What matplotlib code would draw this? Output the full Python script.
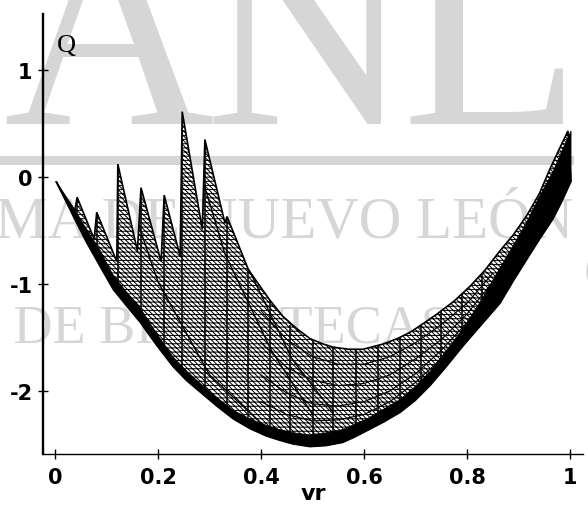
import matplotlib
matplotlib.use("Agg")
import matplotlib.pyplot as plt
from matplotlib.patches import Rectangle

# top edge of the surface, spike tip then foot of the next one
upper_vr = [0.002, 0.037, 0.043, 0.076, 0.081, 0.120, 0.122, 0.160, 0.167, 0.206, 0.212, 0.243, 0.247,
            0.286, 0.291, 0.330, 0.334, 0.355, 0.375, 0.392, 0.417, 0.442, 0.470, 0.495, 0.520, 0.540,
            0.570, 0.598, 0.638, 0.665, 0.690, 0.715, 0.742, 0.775, 0.806, 0.835, 0.864, 0.890, 0.916,
            0.940, 0.961, 0.980, 0.996]
upper_q = [-0.04, -0.35, -0.19, -0.58, -0.33, -0.79, 0.12, -0.69, -0.10, -0.79, -0.17, -0.74, 0.61,
           -0.49, 0.35, -0.43, -0.37, -0.62, -0.86, -0.98, -1.15, -1.30, -1.42, -1.51, -1.56, -1.59,
           -1.61, -1.61, -1.56, -1.51, -1.45, -1.37, -1.28, -1.16, -1.02, -0.87, -0.69, -0.54, -0.36,
           -0.16, 0.075, 0.27, 0.43]

# bottom edge and the top of the dark band along it
lower_vr = [0.002, 0.035, 0.060, 0.087, 0.113, 0.140, 0.165, 0.197, 0.229, 0.255, 0.282, 0.314, 0.346,
            0.378, 0.410, 0.436, 0.462, 0.495, 0.527, 0.559, 0.582, 0.606, 0.638, 0.670, 0.699, 0.728,
            0.760, 0.792, 0.828, 0.864, 0.890, 0.916, 0.941, 0.967, 0.985, 1.002]
lower_q = [-0.04, -0.36, -0.60, -0.83, -1.05, -1.21, -1.355, -1.57, -1.77, -1.90, -2.01, -2.14, -2.26,
           -2.35, -2.42, -2.46, -2.495, -2.52, -2.51, -2.48, -2.43, -2.37, -2.29, -2.20, -2.09, -1.95,
           -1.77, -1.58, -1.38, -1.18, -0.97, -0.77, -0.58, -0.39, -0.22, -0.04]
band_q = [-0.04, -0.28, -0.48, -0.68, -0.92, -1.08, -1.22, -1.46, -1.68, -1.81, -1.93, -2.06, -2.18,
          -2.26, -2.32, -2.36, -2.39, -2.41, -2.39, -2.36, -2.31, -2.26, -2.17, -2.08, -1.96, -1.82,
          -1.62, -1.42, -1.15, -0.85, -0.64, -0.42, -0.18, 0.05, 0.25, 0.43]

# vertical mesh lines
rib_vr = [0.043, 0.081, 0.122, 0.167, 0.212, 0.247, 0.291, 0.334, 0.375, 0.417, 0.456, 0.500, 0.540,
          0.585, 0.627, 0.670, 0.710, 0.750, 0.790, 0.830]
rib_top = [-0.19, -0.33, 0.12, -0.10, -0.17, 0.61, 0.35, -0.37, -0.86, -1.14, -1.38, -1.53, -1.59,
           -1.61, -1.57, -1.49, -1.34, -1.20, -1.05, -0.88]
rib_bottom = [-0.70, -0.80, -1.10, -1.38, -1.68, -1.88, -2.06, -2.22, -2.34, -2.42, -2.48, -2.52, -2.50,
              -2.43, -2.34, -2.20, -2.05, -1.85, -1.63, -1.38]

# curves running along the mesh
mesh_vr = [0.40, 0.45, 0.50, 0.55, 0.60, 0.65, 0.70, 0.75, 0.80, 0.85]
mesh_1 = [-1.25, -1.52, -1.68, -1.75, -1.75, -1.68, -1.55, -1.38, -1.18, -0.90]
mesh_2 = [-1.55, -1.78, -1.90, -1.95, -1.93, -1.85, -1.70, -1.52, -1.28, -0.98]
mesh_3 = [-1.85, -2.02, -2.12, -2.14, -2.10, -2.00, -1.84, -1.62, -1.36, -1.04]
mesh_4 = [-2.10, -2.22, -2.28, -2.27, -2.22, -2.10, -1.92, -1.70, -1.42, -1.08]

# strokes falling from the spike tips
fall_vr = [0.122, 0.20, 0.30, 0.40, 0.247, 0.33, 0.42, 0.50, 0.291, 0.37, 0.46, 0.54]
fall_q = [0.12, -0.98, -1.85, -2.30, 0.61, -0.72, -1.62, -2.22, 0.35, -0.80, -1.70, -2.20]

x_ticks = [0, 0.2, 0.4, 0.6, 0.8, 1]
x_labels = ["0", "0.2", "0.4", "0.6", "0.8", "1"]
y_ticks = [-2, -1, 0, 1]
y_labels = ["-2", "-1", "0", "1"]

W, H = 588, 506
grey = "#d6d6d6"

plt.rcParams["hatch.linewidth"] = 0.7

fig = plt.figure(figsize=(W / 100, H / 100), dpi=100)
ax = fig.add_axes([43 / W, 1 - 455 / H, 540 / W, 440 / H])
ax.patch.set_visible(False)


def mark(text, px, py, size):
    fig.text(px / W, 1 - py / H, text, family="Liberation Serif", fontsize=size, color=grey,
             ha="left", va="baseline", zorder=-5)


# library watermark behind the chart
mark("U", -210, 124, 206)
mark("A", 3, 124, 210)
mark("N", 205, 124, 206)
mark("L", 402, 124, 212)
mark("MA DE NUEVO LEÓN", -5, 238, 42.5)
mark("L DE BIBLIOTECAS", -31, 343, 39)
mark("G", 584, 289, 41)
fig.add_artist(Rectangle((0, 1 - 166 / H), 574 / W, 9 / H, transform=fig.transFigure,
                         facecolor=grey, edgecolor="none", zorder=-5))

surface = ax.fill(upper_vr + lower_vr[::-1], upper_q + lower_q[::-1], facecolor="white", edgecolor="black",
                  hatch="\\" * 7 + "-" * 4, linewidth=1.2, zorder=2)[0]
ax.fill(lower_vr + lower_vr[::-1], band_q + lower_q[::-1], color="black", linewidth=0.5, zorder=3)
ribs = ax.vlines(rib_vr, rib_bottom, rib_top, color="black", linewidth=1.1, zorder=3)
ribs.set_clip_path(surface)
for row in [mesh_1, mesh_2, mesh_3, mesh_4]:
    ax.plot(mesh_vr, row, color="black", linewidth=0.8, zorder=3)[0].set_clip_path(surface)
for i in range(0, len(fall_vr), 4):
    ax.plot(fall_vr[i:i + 4], fall_q[i:i + 4], color="black", linewidth=1.0, zorder=3)[0].set_clip_path(surface)

ax.set_xlim(-0.0233, 1.0252)
ax.set_ylim(-2.589, 1.523)
ax.spines["top"].set_visible(False)
ax.spines["right"].set_visible(False)
ax.spines["left"].set_linewidth(1.7)
ax.spines["bottom"].set_linewidth(1.0)

ax.set_xticks(x_ticks, x_labels, fontsize=15, fontweight="bold")
ax.set_yticks(y_ticks, y_labels, fontsize=15, fontweight="bold")
ax.tick_params(axis="x", direction="inout", length=7, width=1, pad=6)
ax.tick_params(axis="y", direction="inout", length=7, width=1, pad=4)

fig.text(313 / W, 1 - 494 / H, "vr", fontsize=16, fontweight="bold", ha="center", va="center")
fig.text(66 / W, 1 - 46 / H, "Q", fontsize=19, family="Liberation Serif", ha="center", va="center")

fig.savefig("out.png", dpi=100)
